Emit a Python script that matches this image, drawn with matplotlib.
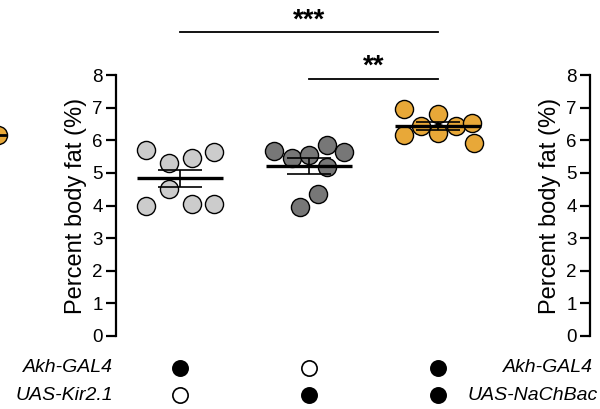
import matplotlib.pyplot as plt
import numpy as np

plt.rcParams['font.family'] = ['Liberation Sans', 'DejaVu Sans']

# percent body fat per fly group
ctrl_gal4 = [5.71, 5.30, 5.47, 5.63, 4.51, 3.99, 4.05, 4.05]
ctrl_uas = [5.67, 5.47, 5.55, 5.86, 5.63, 5.19, 4.36, 3.95]
nachbac = [6.96, 6.17, 6.45, 6.81, 6.22, 6.45, 6.52, 5.91]
group_sem = [0.26, 0.24, 0.12]
group_colors = ['#cccccc', '#777777', '#e8a838']
# swarm offsets (layout only)
x_offsets = [
    [-0.27, -0.09, 0.09, 0.26, -0.09, -0.27, 0.09, 0.26],
    [-0.27, -0.13, 0.0, 0.14, 0.27, 0.14, 0.07, -0.07],
    [-0.26, -0.26, -0.13, 0.0, 0.0, 0.14, 0.27, 0.28],
]
akh_gal4 = [1, 0, 1]
uas_kir = [0, 1, 1]
yticks = list(range(0, 9))
left_panel_value = 6.17

fig = plt.figure(figsize=(6.0, 4.09), dpi=100)
ax = fig.add_axes([116 / 600, 1 - 336 / 409, (502 - 116) / 600, 261 / 409])

groups = [ctrl_gal4, ctrl_uas, nachbac]
for i, vals in enumerate(groups):
    xs = i + np.array(x_offsets[i])
    ax.scatter(xs, vals, s=170, color=group_colors[i], edgecolor='black',
               linewidth=1.0, zorder=2, clip_on=False)
    m = np.mean(vals)
    ax.plot([i - 0.335, i + 0.335], [m, m], color='black', lw=2.4, zorder=3,
            solid_capstyle='butt')
    ax.errorbar(i, m, yerr=group_sem[i], color='black', lw=1.2, capsize=16,
                capthick=1.2, zorder=3)

ax.set_xlim(-0.5, 2.5)
ax.set_ylim(0, 8)
ax.set_yticks(yticks)
ax.set_xticks([])
for s in ['top', 'right', 'bottom']:
    ax.spines[s].set_visible(False)
ax.spines['left'].set_linewidth(1.6)
ax.tick_params(axis='y', direction='out', length=7, width=1.6, pad=2.5,
               labelsize=13.5)
ax.set_ylabel('Percent body fat (%)', fontsize=17, labelpad=4)

# significance bars
ax.plot([0, 2], [9.33, 9.33], color='black', lw=1.3, clip_on=False)
ax.text(1, 9.45, '***', ha='center', va='baseline', fontsize=20,
        fontweight='bold', clip_on=False)
ax.plot([1, 2], [7.88, 7.88], color='black', lw=1.3, clip_on=False)
ax.text(1.5, 8.05, '**', ha='center', va='baseline', fontsize=20,
        fontweight='bold', clip_on=False)

# genotype table
for i in range(3):
    ax.plot(i, -0.98, 'o', ms=11, mec='black', mew=1.2,
            mfc='black' if akh_gal4[i] else 'white', clip_on=False)
    ax.plot(i, -1.81, 'o', ms=11, mec='black', mew=1.2,
            mfc='black' if uas_kir[i] else 'white', clip_on=False)
fig.text(113 / 600, 1 - 368 / 409, 'Akh-GAL4', ha='right', va='center',
         style='italic', fontsize=14)
fig.text(113 / 600, 1 - 395 / 409, 'UAS-Kir2.1', ha='right', va='center',
         style='italic', fontsize=14)
fig.text(593 / 600, 1 - 368 / 409, 'Akh-GAL4', ha='right', va='center',
         style='italic', fontsize=14)
fig.text(598 / 600, 1 - 395 / 409, 'UAS-NaChBac', ha='right', va='center',
         style='italic', fontsize=14)

# neighbouring panels (cut off)
axl = fig.add_axes([-0.2, 1 - 336 / 409, 0.2, 261 / 409])
axl.set_xlim(0, 1)
axl.set_ylim(0, 8)
axl.axis('off')
axl.scatter([0.985], [left_panel_value], s=170, color=group_colors[2],
            edgecolor='black', linewidth=1.0, clip_on=False)
axl.plot([0.9, 1.05], [left_panel_value, left_panel_value], color='black',
         lw=2.0, clip_on=False)

axr = fig.add_axes([590 / 600, 1 - 336 / 409, 0.2, 261 / 409])
axr.set_xlim(0, 1)
axr.set_ylim(0, 8)
axr.set_yticks(yticks)
axr.set_xticks([])
for s in ['top', 'right', 'bottom']:
    axr.spines[s].set_visible(False)
axr.spines['left'].set_linewidth(1.6)
axr.tick_params(axis='y', direction='out', length=7, width=1.6, pad=2.5,
                labelsize=13.5)
axr.set_ylabel('Percent body fat (%)', fontsize=17, labelpad=4)

fig.savefig('out.png', dpi=100)
